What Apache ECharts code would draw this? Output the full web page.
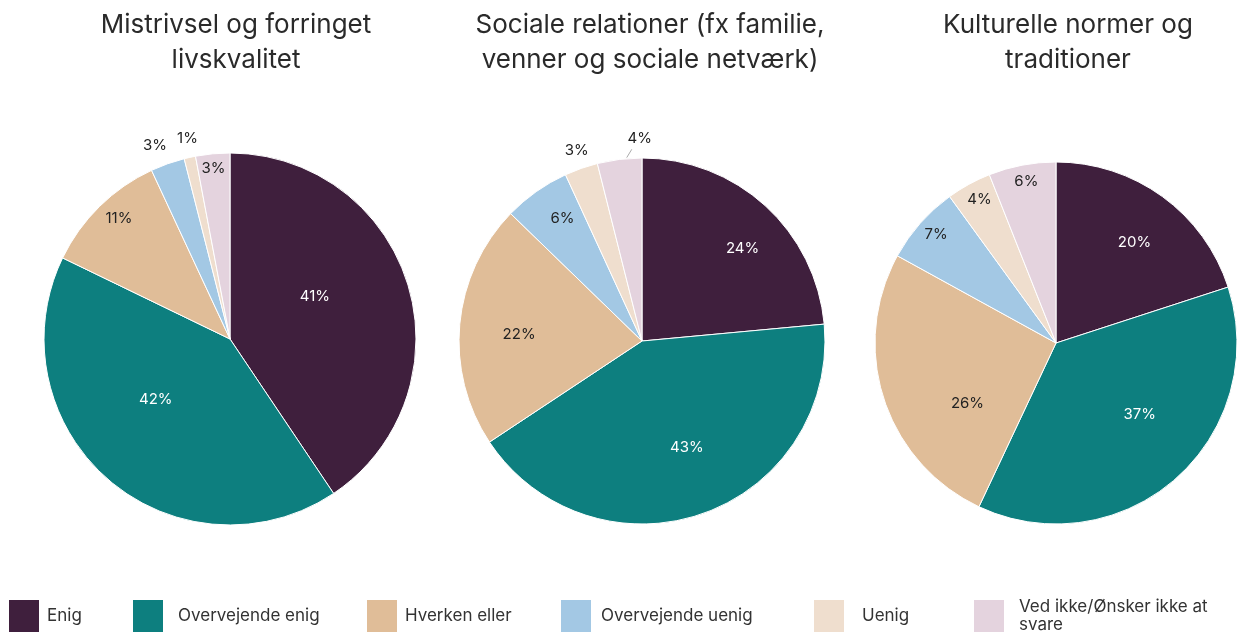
<!DOCTYPE html>
<html>
<head>
<meta charset="utf-8">
<script src="https://cdn.jsdelivr.net/npm/echarts@6/dist/echarts.min.js"></script>
<style>
  html, body { margin: 0; padding: 0; background: #fff; }
  #main { width: 1238px; height: 634px; }
</style>
</head>
<body>
<div id="main"></div>
<script>
// kategorier (legend-rækkefølge)
const categories = ['Enig', 'Overvejende enig', 'Hverken eller', 'Overvejende uenig', 'Uenig', 'Ved ikke/Ønsker ikke at svare'];
const titles = ['Mistrivsel og forringet\nlivskvalitet', 'Sociale relationer (fx familie,\nvenner og sociale netværk)', 'Kulturelle normer og\ntraditioner'];

const mistrivsel = [41, 42, 11, 3, 1, 3];
const sociale = [24, 43, 22, 6, 3, 4];
const kulturelle = [20, 37, 26, 7, 4, 6];
const pieValues = [mistrivsel, sociale, kulturelle];

const colors = ['#3f1f3d', '#0d7f7f', '#e0bd98', '#a3c8e4', '#efdece', '#e4d3de'];
const labelColors = ['#fff', '#fff', '#222', '#222', '#222', '#222'];

// layout
const centers = [[230, 339], [642, 341], [1056, 343]];
const radii = [186, 183, 181];
const titleX = [231, 645, 1063];
const FONT = 'Inter';

// label-placering: andel af radius + vinkeljustering (grader)
const labelFrac = [
  [0.495, 0.5, 0.866, 1.1, 1.086, 0.903],
  [0.732, 0.617, 0.656, 0.781, 1.082, 1.093],
  [0.69, 0.59, 0.575, 0.878, 0.884, 0.89]
];
const labelShift = [
  [-10, 10, 2, -1.6, 0.5, -0.2],
  [5, -3.5, -2.4, 2.3, 0.5, 6.5],
  [1.9, -8.5, -16.6, 0.8, 0.8, 0.4]
];
// lille label-linje ved disse (pie, index)
const leaderLines = [[1, 5]];

const midAngles = pieValues.map(vals => {
  const sum = vals.reduce((a, b) => a + b, 0);
  let cum = 0;
  return vals.map(v => {
    const mid = (cum + v / 2) / sum * Math.PI * 2;
    cum += v;
    return mid;
  });
});

const offsets = midAngles.map((angs, p) => angs.map((a, i) => {
  const ang = a + labelShift[p][i] * Math.PI / 180;
  const R = labelFrac[p][i] * radii[p];
  const d0 = 0.5 * radii[p];
  return [Math.sin(ang) * R - Math.sin(a) * d0, -Math.cos(ang) * R + Math.cos(a) * d0];
}));

const series = pieValues.map((vals, p) => ({
  type: 'pie',
  name: titles[p],
  center: centers[p],
  radius: [0, radii[p]],
  startAngle: 90,
  clockwise: true,
  silent: true,
  itemStyle: { borderColor: '#fff', borderWidth: 1 },
  label: {
    position: 'inside',
    formatter: '{c}%',
    fontFamily: FONT,
    fontSize: 15
  },
  labelLine: { show: false },
  labelLayout: function (params) {
    const o = offsets[p][params.dataIndex];
    return { dx: o[0], dy: o[1] };
  },
  data: vals.map((v, i) => ({
    name: categories[i],
    value: v,
    itemStyle: { color: colors[i] },
    label: { color: labelColors[i] }
  }))
}));

// label-linjer beregnet ud fra midtvinkel
const lineGraphics = leaderLines.map(([p, i]) => {
  const a = midAngles[p][i] + 0.04;
  const c = centers[p], r = radii[p];
  return {
    type: 'line',
    silent: true,
    shape: {
      x1: c[0] + Math.sin(a) * (r + 1), y1: c[1] - Math.cos(a) * (r + 1),
      x2: c[0] + Math.sin(a + 0.03) * (r + 9), y2: c[1] - Math.cos(a + 0.03) * (r + 9)
    },
    style: { stroke: '#aaa', lineWidth: 1 }
  };
});

// legend - en per kategori så afstandene passer
const legendLeft = [7, 131, 365, 559, 812, 972];
const legendPad = [2, 9, 2, 4, 12, 9];
const legends = categories.map((c, i) => ({
  data: [c],
  left: legendLeft[i],
  top: 598,
  padding: 0,
  itemWidth: 32,
  itemHeight: 34,
  icon: 'rect',
  selectedMode: false,
  formatter: i === 5 ? 'Ved ikke/Ønsker ikke at\nsvare' : '{name}',
  textStyle: {
    fontFamily: FONT,
    fontSize: 17,
    color: '#333',
    lineHeight: 18,
    padding: [0, 0, 0, legendPad[i]]
  }
}));

const chart = echarts.init(document.getElementById('main'));
chart.setOption({
  animation: false,
  color: colors,
  title: titles.map((t, i) => ({
    text: t,
    left: titleX[i],
    top: 3,
    textAlign: 'center',
    textStyle: {
      fontFamily: FONT,
      fontWeight: 'normal',
      fontSize: 26,
      color: '#2a2a2a',
      lineHeight: 35
    }
  })),
  legend: legends,
  graphic: lineGraphics,
  series: series
});
</script>
</body>
</html>
